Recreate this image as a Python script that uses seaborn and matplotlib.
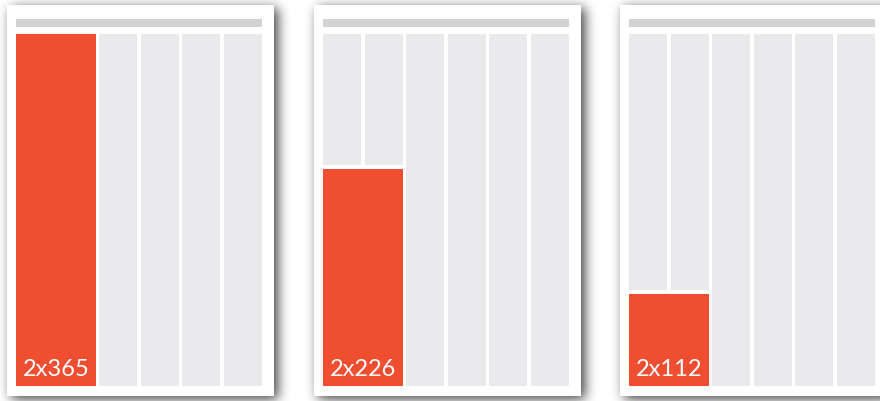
import numpy as np
import pandas as pd
import matplotlib
matplotlib.use("Agg")
import matplotlib.pyplot as plt
from matplotlib.patches import Rectangle
import seaborn as sns

# ---- data ----
labels = ["2x365", "2x226", "2x112"]
fill_share = [1.0, 0.617, 0.262]   # share of the page height covered by the red block
n_columns = 6
column_ids = list(range(n_columns))

RED = "#F04E30"
GREY = "#EAEAEC"
HEADER = "#D2D2D4"

sns.set_theme(style="white")
plt.rcParams["font.family"] = ["Lato", "DejaVu Sans"]

W, H = 880, 401
fig = plt.figure(figsize=(W / 100, H / 100), dpi=100)
fig.patch.set_facecolor("white")

# background axes in pixel coordinates for cards and shadows
bg = fig.add_axes([0, 0, 1, 1], zorder=0)
bg.set_xlim(0, W)
bg.set_ylim(H, 0)
bg.axis("off")

card_w, card_h = 267, 391
card_top = 5
card_lefts = [7, 314, 620]

# soft drop shadow
mask = np.zeros((H + 60, W + 60))
pad = 30
dx, dy = 4, 3
for cl in card_lefts:
    mask[pad + card_top + dy: pad + card_top + card_h + dy,
         pad + cl + dx: pad + cl + card_w + dx] = 1.0
sigma = 6.0
k = np.arange(-20, 21)
kern = np.exp(-k ** 2 / (2 * sigma ** 2))
kern /= kern.sum()
mask = np.apply_along_axis(lambda r: np.convolve(r, kern, mode="same"), 1, mask)
mask = np.apply_along_axis(lambda c: np.convolve(c, kern, mode="same"), 0, mask)
mask = mask[pad:pad + H, pad:pad + W]
rgba = np.zeros((H, W, 4))
rgba[..., 3] = mask * 0.75
bg.imshow(rgba, extent=(0, W, H, 0), zorder=1, interpolation="bilinear")

for cl in card_lefts:
    bg.add_patch(Rectangle((cl, card_top), card_w, card_h, facecolor="white",
                           edgecolor="none", zorder=2))
    bg.add_patch(Rectangle((cl + 9, 19), 246, 8, facecolor=HEADER,
                           edgecolor="none", zorder=3))
bg.set_xlim(0, W)
bg.set_ylim(H, 0)

# column area for each page
gap_x = 3.6 / 41.6
wb = 1 - gap_x
gap_y = 4 / 352

for cl, share, lab in zip(card_lefts, fill_share, labels):
    ax = fig.add_axes([(cl + 9) / W, (H - 386) / H, 246 / W, 352 / H], zorder=2)
    ax.patch.set_alpha(0)
    full = [0, 0] + [1] * (n_columns - 2)
    df = pd.DataFrame({"col": column_ids, "h": full})
    sns.barplot(data=df, x="col", y="h", order=column_ids, color=GREY,
                saturation=1, width=wb, ax=ax, linewidth=0)
    # grey remainder above the red block in the first two columns
    rest = 1 - share - gap_y
    if rest > 0:
        ax.bar([0, 1], [rest, rest], bottom=share + gap_y, width=wb,
               color=GREY, linewidth=0)
    ax.bar(0.5, share, width=1 + wb, color=RED, linewidth=0)
    ax.annotate(lab, xy=(-wb / 2, 0), xytext=(7, 10), textcoords="offset pixels",
                color="white", fontsize=17, va="baseline", ha="left")
    ax.set_xlim(-wb / 2, n_columns - 1 + wb / 2)
    ax.set_ylim(0, 1)
    ax.axis("off")

fig.savefig("out.png", dpi=100, facecolor="white")
